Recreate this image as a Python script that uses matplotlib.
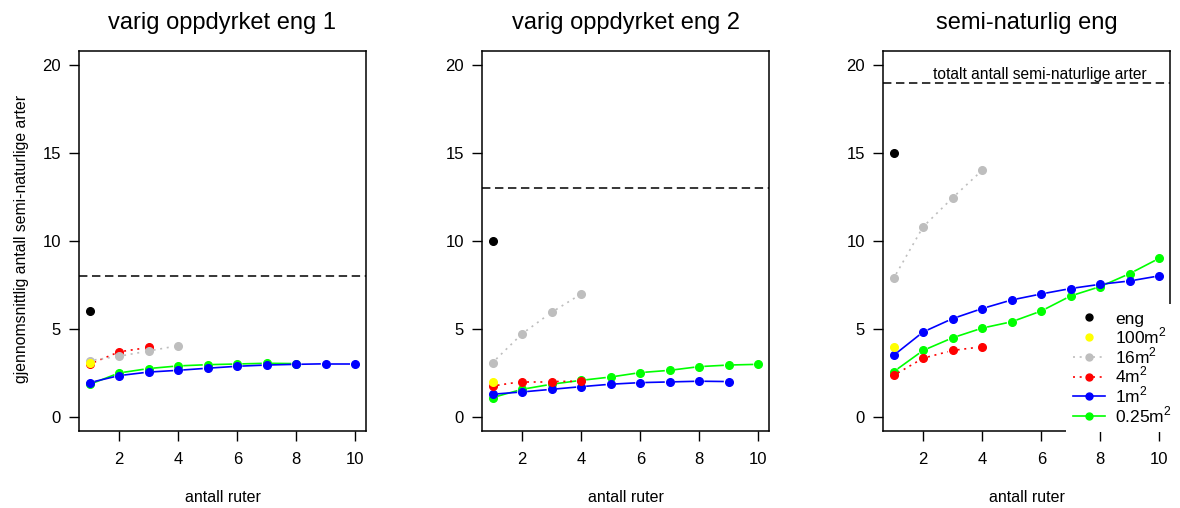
import numpy as np
import matplotlib
matplotlib.use("Agg")
import matplotlib.pyplot as plt
from matplotlib.lines import Line2D

plt.rcParams['font.family'] = ['Liberation Sans', 'DejaVu Sans']

# --- data ---
titles = ["varig oppdyrket eng 1", "varig oppdyrket eng 2", "semi-naturlig eng"]
total_species = [8, 13, 19]

eng_vals = [6.0, 10.0, 15.0]
m100_vals = [3.05, 2.01, 3.99]
m16_vals = [
    [3.2, 3.45, 3.75, 4.05],
    [3.09, 4.73, 5.95, 6.99],
    [7.88, 10.81, 12.46, 14.02],
]
m4_vals = [
    [3.0, 3.7, 3.95],
    [1.76, 2.01, 2.01, 2.03],
    [2.36, 3.34, 3.78, 3.99],
]
m1_vals = [
    [1.95, 2.35, 2.55, 2.65, 2.77, 2.88, 2.95, 2.99, 3.02, 3.02],
    [1.29, 1.42, 1.57, 1.72, 1.86, 1.95, 1.99, 2.03, 2.01],
    [3.50, 4.83, 5.59, 6.16, 6.65, 6.99, 7.30, 7.54, 7.73, 8.02],
]
m025_vals = [
    [1.85, 2.5, 2.75, 2.9, 2.97, 3.01, 3.05, 3.03],
    [1.10, 1.57, 1.86, 2.08, 2.27, 2.52, 2.65, 2.86, 2.95, 2.99],
    [2.57, 3.78, 4.50, 5.05, 5.41, 6.02, 6.88, 7.41, 8.15, 9.02],
]

legend_labels = ["eng", r"100m$^\mathregular{2}$", r"16m$^\mathregular{2}$",
                 r"4m$^\mathregular{2}$", r"1m$^\mathregular{2}$",
                 r"0.25m$^\mathregular{2}$"]

C_ENG, C_100, C_16, C_4, C_1, C_025 = "black", "#FFFF00", "#BEBEBE", "#FF0000", "#0000FF", "#00FF00"
DOT = (0, (1.2, 2.8))
MS = 5.5
GAP = 5.0  # pixels of gap around points, like R type="b"


def gapped_series(ax, y, color, ls):
    x = np.arange(1, len(y) + 1)
    pts = ax.transData.transform(np.column_stack([x, y]))
    inv = ax.transData.inverted()
    for p0, p1 in zip(pts[:-1], pts[1:]):
        d = p1 - p0
        L = np.hypot(*d)
        if L <= 2 * GAP:
            continue
        u = d / L
        a = inv.transform(p0 + u * GAP)
        b = inv.transform(p1 - u * GAP)
        ax.plot([a[0], b[0]], [a[1], b[1]], color=color, ls=ls, lw=1.2,
                solid_capstyle='butt', dash_capstyle='butt')
    ax.plot(x, y, 'o', color=color, ms=MS, mec=color, ls='none')


fig = plt.figure(figsize=(11.8, 5.08), dpi=100)
lefts = [79, 482, 883]

for i in range(3):
    ax = fig.add_axes([lefts[i] / 1180, (508 - 431) / 508, 287 / 1180, 380 / 508])
    ax.set_xlim(0.64, 10.36)
    ax.set_ylim(-0.8, 20.8)
    ax.set_xticks([2, 4, 6, 8, 10])
    ax.set_yticks([0, 5, 10, 15, 20])
    ax.tick_params(length=7, width=1, labelsize=12, pad=6)
    ax.tick_params(axis='x', pad=8)
    for s in ax.spines.values():
        s.set_linewidth(1.1)
    ax.set_title(titles[i], fontsize=17, pad=16)
    ax.set_xlabel("antall ruter", fontsize=11.5, labelpad=17)

    ax.axhline(total_species[i], color='black', ls=(0, (5.5, 3)), lw=1.1)

    gapped_series(ax, m025_vals[i], C_025, '-')
    gapped_series(ax, m1_vals[i], C_1, '-')
    gapped_series(ax, m4_vals[i], C_4, DOT)
    gapped_series(ax, m16_vals[i], C_16, DOT)
    ax.plot([1], [m100_vals[i]], 'o', color=C_100, ms=MS, ls='none')
    ax.plot([1], [eng_vals[i]], 'o', color=C_ENG, ms=MS, ls='none')

    if i == 2:
        ax.text(5.95, total_species[i] + 0.05, "totalt antall semi-naturlige arter",
                ha='center', va='bottom', fontsize=11.2)
        handles = [
            Line2D([], [], color=C_ENG, marker='o', ls='none', ms=5),
            Line2D([], [], color=C_100, marker='o', ls='none', ms=5),
            Line2D([], [], color=C_16, marker='o', ls=DOT, lw=1.2, ms=5),
            Line2D([], [], color=C_4, marker='o', ls=DOT, lw=1.2, ms=5),
            Line2D([], [], color=C_1, marker='o', ls='-', lw=1.2, ms=5),
            Line2D([], [], color=C_025, marker='o', ls='-', lw=1.2, ms=5),
        ]
        leg = ax.legend(handles, legend_labels, loc='lower right',
                        bbox_to_anchor=(1.03, -0.003), fontsize=12.5,
                        frameon=True, fancybox=False, framealpha=1,
                        edgecolor='white', handlelength=1.8,
                        labelspacing=-0.05, borderpad=0.4, handletextpad=0.6,
                        borderaxespad=0)
        leg.get_frame().set_linewidth(0)

fig.text(22 / 1180, (508 - 239) / 508, "gjennomsnittlig antall semi-naturlige arter",
         rotation=90, ha='center', va='center', fontsize=11.3)

fig.savefig("out.png", dpi=100)
